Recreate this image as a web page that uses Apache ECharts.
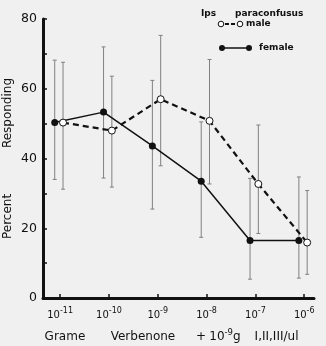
<!DOCTYPE html>
<html><head><meta charset="utf-8">
<script src="https://cdn.jsdelivr.net/npm/echarts@6/dist/echarts.min.js"></script>
<style>html,body{margin:0;padding:0;background:#f0f0f0}#c{width:326px;height:346px}</style>
</head><body><div id="c"></div>
<script>
const xExp = [-11, -10, -9, -8, -7, -6];
const tickExp = ['-11', '-10', '-9', '-8', '-7', '-6'];
const femaleMean = [50.3, 53.3, 43.6, 33.5, 16.5, 16.5];
const femaleHigh = [68.2, 72.0, 62.4, 50.5, 34.3, 34.7];
const femaleLow  = [34.0, 34.4, 25.5, 17.4, 5.4, 5.7];
const maleMean = [50.3, 48.0, 57.0, 50.8, 32.7, 15.9];
const maleHigh = [67.6, 63.6, 75.3, 68.4, 49.6, 30.8];
const maleLow  = [31.2, 31.8, 37.9, 32.7, 18.5, 6.8];

const femaleOff = -0.11, maleOff = 0.06;
const FONT = 'DejaVu Sans';

const fX = xExp.map(v => v + femaleOff);
const mX = xExp.map(v => v + maleOff);

function errData(xs, lo, hi) { return xs.map((x, i) => [x, lo[i], hi[i]]); }
function errRender(params, api) {
  const x = api.value(0);
  const p1 = api.coord([x, api.value(1)]);
  const p2 = api.coord([x, api.value(2)]);
  const st = { stroke: '#808080', lineWidth: 1 };
  return { type: 'group', children: [
    { type: 'line', shape: { x1: p1[0], y1: p1[1], x2: p2[0], y2: p2[1] }, style: st },
    { type: 'line', shape: { x1: p1[0] - 2, y1: p1[1], x2: p1[0] + 2, y2: p1[1] }, style: st },
    { type: 'line', shape: { x1: p2[0] - 2, y1: p2[1], x2: p2[0] + 2, y2: p2[1] }, style: st }
  ]};
}

const nm = { fontFamily: FONT, fontSize: 12, color: '#111' };
const chart = echarts.init(document.getElementById('c'), null, { renderer: 'canvas' });
chart.setOption({
  backgroundColor: '#f0f0f0',
  animation: false,
  grid: { left: 43, right: 12, top: 19, bottom: 48, outerBoundsMode: 'none', containLabel: false },
  xAxis: {
    type: 'value', min: -11.35, max: -5.8,
    splitLine: { show: false },
    axisLine: { onZero: false, lineStyle: { color: '#111', width: 3 } },
    axisTick: { inside: true, length: 4, customValues: xExp, lineStyle: { color: '#111', width: 1.5 } },
    axisLabel: {
      customValues: xExp, margin: 9,
      formatter: v => '{b|10}{s|' + tickExp[xExp.indexOf(Math.round(v))] + '}',
      rich: {
        b: { fontFamily: FONT, fontSize: 10, color: '#111', verticalAlign: 'bottom' },
        s: { fontFamily: FONT, fontSize: 8, color: '#111', verticalAlign: 'top', padding: [0, 0, 5, 0] }
      }
    },
    name: '{g|Grame}{v|Verbenone}{p|+}{q|10}{s|-9}{r|g}{i|I,II,III/ul}{e| }',
    nameLocation: 'middle', nameGap: 30, nameMoveOverlap: false,
    nameTextStyle: {
      rich: {
        g: Object.assign({ width: 57, align: 'center' }, nm),
        v: Object.assign({ width: 99, align: 'center' }, nm),
        p: Object.assign({ width: 17, align: 'center' }, nm),
        q: Object.assign({ width: 15, align: 'right' }, nm),
        s: { fontFamily: FONT, fontSize: 8.5, color: '#111', padding: [0, 0, 8, 0] },
        r: Object.assign({}, nm),
        i: Object.assign({ width: 72, align: 'right' }, nm),
        e: Object.assign({ width: 8 }, nm)
      }
    }
  },
  yAxis: {
    type: 'value', min: 0, max: 80, interval: 20,
    splitLine: { show: false },
    axisLine: { lineStyle: { color: '#111', width: 3 } },
    axisTick: { inside: true, length: 4, lineStyle: { color: '#111', width: 1.5 } },
    minorTick: { show: true, splitNumber: 2, length: 4, lineStyle: { color: '#111', width: 1.5 } },
    axisLabel: { fontFamily: FONT, fontSize: 12.5, color: '#111', margin: 6 },
    name: 'Percent            Responding',
    nameLocation: 'middle', nameGap: 29, nameRotate: 90, nameMoveOverlap: false,
    nameTextStyle: { fontFamily: FONT, fontSize: 12, color: '#111' }
  },
  graphic: [
    { type: 'text', left: 201, top: 9, style: { text: 'Ips      paraconfusus', fontFamily: FONT, fontSize: 9, fontWeight: 'bold', fill: '#111' } },
    { type: 'circle', shape: { cx: 221, cy: 24, r: 2.8 }, style: { fill: '#fff', stroke: '#111', lineWidth: 1 } },
    { type: 'line', shape: { x1: 225, y1: 24, x2: 236, y2: 24 }, style: { stroke: '#111', lineWidth: 2, lineDash: [4, 2] } },
    { type: 'circle', shape: { cx: 240, cy: 24, r: 2.8 }, style: { fill: '#fff', stroke: '#111', lineWidth: 1 } },
    { type: 'text', left: 246, top: 19, style: { text: 'male', fontFamily: FONT, fontSize: 9, fontWeight: 'bold', fill: '#111' } },
    { type: 'line', shape: { x1: 222, y1: 48, x2: 249, y2: 48 }, style: { stroke: '#111', lineWidth: 1.5 } },
    { type: 'circle', shape: { cx: 222, cy: 48, r: 3 }, style: { fill: '#111' } },
    { type: 'circle', shape: { cx: 249, cy: 48, r: 3 }, style: { fill: '#111' } },
    { type: 'text', left: 259, top: 43, style: { text: 'female', fontFamily: FONT, fontSize: 9, fontWeight: 'bold', fill: '#111' } }
  ],
  series: [
    { type: 'custom', renderItem: errRender, data: errData(fX, femaleLow, femaleHigh), z: 1, silent: true },
    { type: 'custom', renderItem: errRender, data: errData(mX, maleLow, maleHigh), z: 1, silent: true },
    { type: 'line', data: fX.map((x, i) => [x, femaleMean[i]]), z: 3,
      symbol: 'circle', symbolSize: 7,
      lineStyle: { color: '#111', width: 1.5 },
      itemStyle: { color: '#111' } },
    { type: 'line', data: mX.map((x, i) => [x, maleMean[i]]), z: 4,
      symbol: 'circle', symbolSize: 7,
      lineStyle: { color: '#111', width: 2.2, type: [6, 4] },
      itemStyle: { color: '#fff', borderColor: '#111', borderWidth: 1 } }
  ]
});
</script>
</body></html>
